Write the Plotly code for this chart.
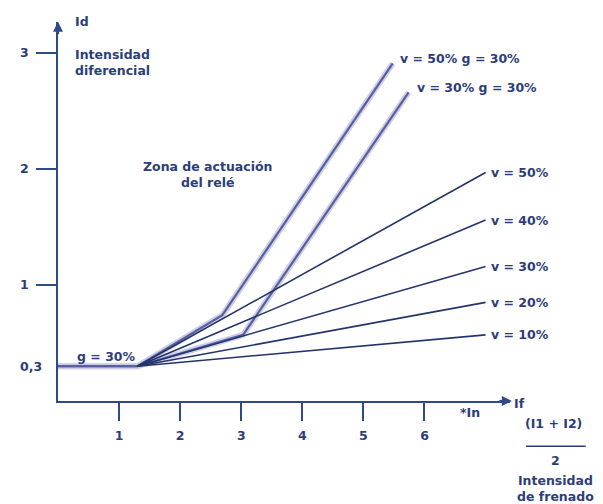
import plotly.graph_objects as go

# ---- data ----
pivot_x, pivot_y = 1.3, 0.3
v_labels = ["v = 50%", "v = 40%", "v = 30%", "v = 20%", "v = 10%"]
v_end_x = [7.0, 7.0, 7.0, 7.0, 7.0]
v_end_y = [1.97, 1.56, 1.16, 0.85, 0.57]

g_labels = ["v = 50% g = 30%", "v = 30% g = 30%"]
g_x = [[0, 1.3, 2.69, 5.48], [0, 1.3, 3.03, 5.74]]
g_y = [[0.3, 0.3, 0.74, 2.91], [0.3, 0.3, 0.57, 2.66]]

x_ticks = [1, 2, 3, 4, 5, 6]
x_ticklabels = ["1", "2", "3", "4", "5", "6"]
y_ticks = [1, 2, 3]
y_label_vals = [3, 2, 1, 0.3]
y_label_text = ["3", "2", "1", "0,3"]

XMAX, YMAX = 7.4, 3.267

NAVY = "#22346a"
TEXT = "#2c3d7a"
AXIS = "#2f4b86"
STEEP = "#5a5e9e"
SHADOW = "#cdcfe6"
FONT = "DejaVu Sans"
FS = 12.5

fig = go.Figure()

for xs, ys in zip(g_x, g_y):
    fig.add_trace(go.Scatter(x=xs, y=ys, mode="lines",
                             line=dict(color=SHADOW, width=6), hoverinfo="skip"))
for xs, ys in zip(g_x, g_y):
    fig.add_trace(go.Scatter(x=xs, y=ys, mode="lines",
                             line=dict(color=STEEP, width=2.2), hoverinfo="skip"))

for ex, ey in zip(v_end_x, v_end_y):
    fig.add_trace(go.Scatter(x=[pivot_x, ex], y=[pivot_y, ey], mode="lines",
                             line=dict(color=NAVY, width=1.6), hoverinfo="skip"))

def px(x):
    return x / XMAX

def py(y):
    return y / YMAX

ann = []
def txt(x, y, t, xanchor="left", size=FS, align="left"):
    ann.append(dict(x=px(x), y=py(y), xref="paper", yref="paper", text=t,
                    showarrow=False, xanchor=xanchor, yanchor="middle", align=align,
                    font=dict(family=FONT, size=size, color=TEXT, weight="bold")))

for lab, ex, ey in zip(v_labels, v_end_x, v_end_y):
    txt(ex + 0.05, ey, lab)
txt(5.57, 2.95, g_labels[0])
txt(5.84, 2.70, g_labels[1])

for v, t in zip(y_label_vals, y_label_text):
    txt(-0.66, v, t)

txt(0.25, 3.27, "Id")
txt(0.25, 2.92, "Intensidad<br>diferencial")
txt(2.44, 1.95, "Zona de actuación<br>del relé", xanchor="center", align="center")
txt(0.28, 0.38, "g = 30%")
txt(6.75, -0.095, "*In", xanchor="center")
txt(7.44, -0.02, "If")
txt(8.12, -0.19, "(I1 + I2)", xanchor="center")
txt(8.15, -0.51, "2", xanchor="center")
txt(8.15, -0.75, "Intensidad<br>de frenado", xanchor="center", align="center")

# axis arrows
ann.append(dict(x=px(7.43), y=py(0), xref="paper", yref="paper", ax=-14, ay=0, text="",
                showarrow=True, arrowhead=2, arrowsize=1, arrowwidth=2, arrowcolor=AXIS))
ann.append(dict(x=px(0), y=py(3.27), xref="paper", yref="paper", ax=0, ay=14, text="",
                showarrow=True, arrowhead=2, arrowsize=1, arrowwidth=2, arrowcolor=AXIS))

fig.update_layout(
    width=603, height=504,
    margin=dict(l=50, r=101, t=14, b=111),
    paper_bgcolor="white", plot_bgcolor="white",
    showlegend=False,
    annotations=ann,
    shapes=[dict(type="line", xref="paper", yref="paper",
                 x0=px(7.66), x1=px(8.64), y0=py(-0.39), y1=py(-0.39),
                 line=dict(color=TEXT, width=1.5))],
    xaxis=dict(range=[0, XMAX], showgrid=False, zeroline=False, showline=True,
               linecolor=AXIS, linewidth=2, ticks="outside", ticklen=18, tickwidth=2,
               tickcolor=AXIS, tickvals=x_ticks, ticktext=x_ticklabels,
               tickfont=dict(family=FONT, size=FS, color=TEXT, weight="bold"),
               ticklabelstandoff=4),
    yaxis=dict(range=[0, YMAX], showgrid=False, zeroline=False, showline=True,
               linecolor=AXIS, linewidth=2, ticks="outside", ticklen=20, tickwidth=2,
               tickcolor=AXIS, tickvals=y_ticks, showticklabels=False),
)

fig.write_html("out.html")
